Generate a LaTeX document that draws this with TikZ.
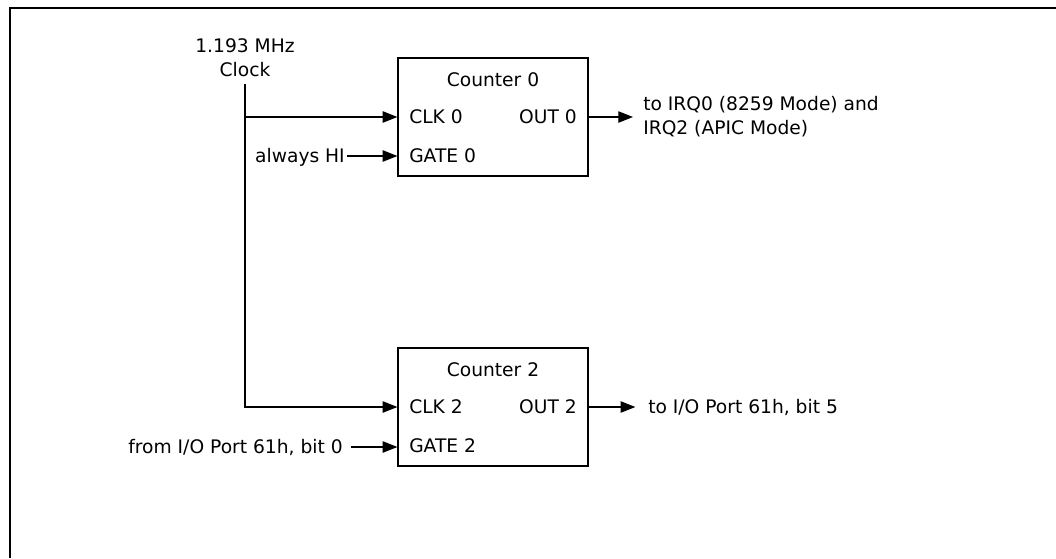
\documentclass[tikz,border=0pt]{standalone}
\usepackage{fontspec}
\setmainfont{DejaVu Sans}
\usetikzlibrary{arrows.meta}
\begin{document}
\begin{tikzpicture}[x=0.75pt,y=-0.75pt,
  lbl/.style={inner sep=0pt,font=\fontsize{14}{18}\selectfont},
  one/.style={lbl,text height=10.2pt,text depth=0pt},
  cnt/.style={draw,line width=0.9pt,minimum width=142.5pt,minimum height=88.5pt,inner sep=0pt},
  wire/.style={line width=0.8pt},
  arr/.style={wire,-{Triangle[length=11pt,width=8.5pt]}},
  frame/.style={line width=1.6pt}]
\useasboundingbox (0,0) rectangle (1056,558);
\draw[frame] (10,558) -- (10,8) -- (1056,8);

% Counter 0
\node[cnt] (c0) at (493,117) {};
\node[one] (c0t) at (493,80) {Counter 0};
\node[one,anchor=west] (c0clk) at (409,117) {CLK 0};
\node[one,anchor=east] (c0out) at (577,117) {OUT 0};
\node[one,anchor=west] (c0gate) at (409,156) {GATE 0};

% Counter 2
\node[cnt] (c2) at (493,407) {};
\node[one] (c2t) at (493,370) {Counter 2};
\node[one,anchor=west] (c2clk) at (409,407) {CLK 2};
\node[one,anchor=east] (c2out) at (577,407) {OUT 2};
\node[one,anchor=west] (c2gate) at (409,446) {GATE 2};

% clock
\node[lbl,align=center] (clk) at (245,58) {1.193 MHz\\Clock};
\draw[arr] ([yshift=-5pt]clk.south) -- (clk.south |- c2clk) -- (c2.west |- c2clk);
\draw[arr] (clk.south |- c0clk) -- (c0.west |- c0clk);

% gates
\node[one,anchor=east] (hi) at (345,156) {always HI};
\draw[arr] ([xshift=1.5pt]hi.east) -- (c0.west |- hi.east);
\node[one,anchor=east] (from) at (343,447) {from I/O Port 61h, bit 0};
\draw[arr] ([xshift=6pt]from.east) -- (c2.west |- from.east);

% outputs
\node[lbl,anchor=west,align=left] (irq) at (643,117) {to IRQ0 (8259 Mode) and\\IRQ2 (APIC Mode)};
\draw[arr] (c0.east |- c0out) -- ([xshift=-7.5pt]irq.west |- c0out);
\node[one,anchor=west] (port) at (648,407) {to I/O Port 61h, bit 5};
\draw[arr] (c2.east |- c2out) -- ([xshift=-9.5pt]port.west);
\end{tikzpicture}
\end{document}
